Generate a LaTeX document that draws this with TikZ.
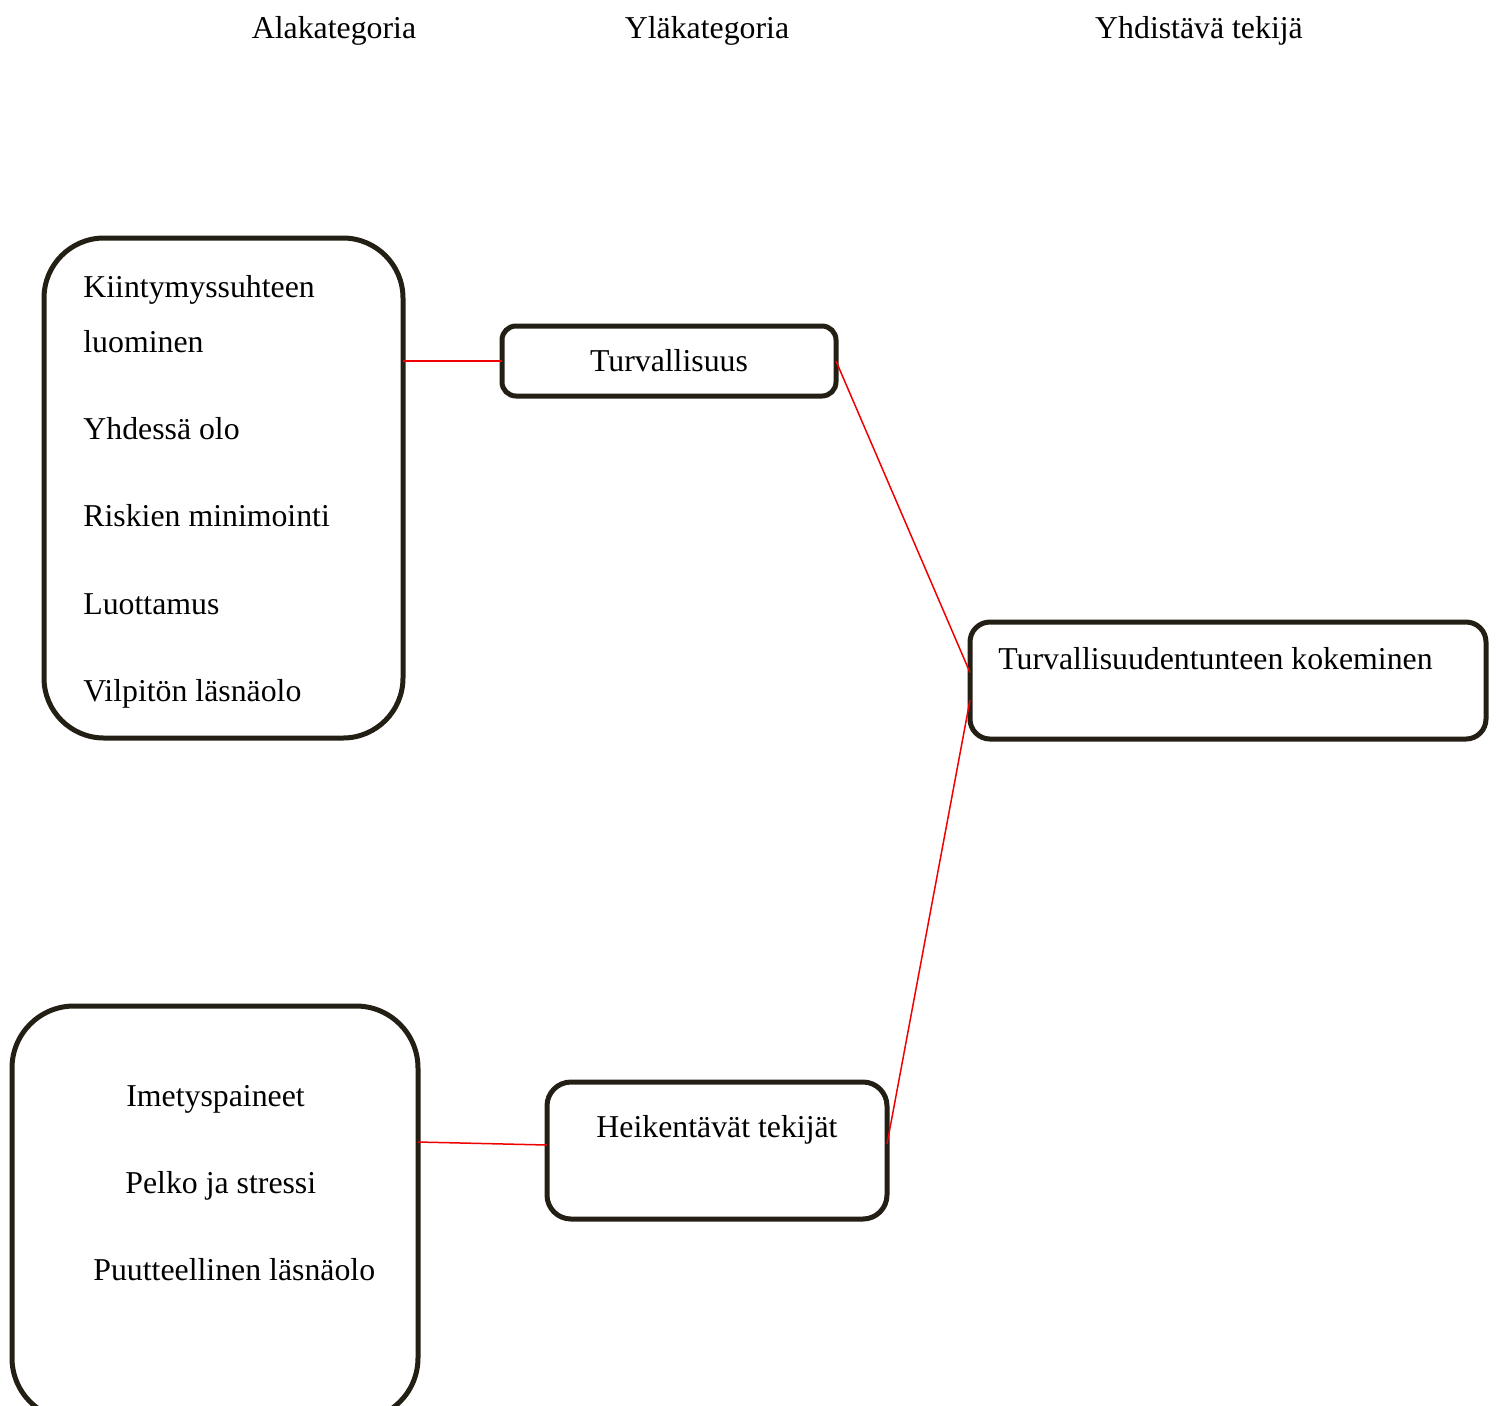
\documentclass[tikz,border=0pt]{standalone}
\usepackage{fontspec}
\setmainfont{Liberation Serif}
\definecolor{boxline}{RGB}{35,31,20}
\definecolor{linkred}{RGB}{240,0,0}
\tikzset{
  lbl/.style={font=\fontsize{15.9}{19}\selectfont, inner sep=0pt, text=black},
  catbox/.style={draw=boxline, line width=2.5pt, fill=white, inner sep=0pt, outer sep=0pt},
  link/.style={draw=linkred, line width=0.75pt}
}
\begin{document}
\begin{tikzpicture}[x=0.5pt,y=-0.5pt]
\useasboundingbox (0,0) rectangle (1501,1405);
\clip (0,0) rectangle (1501,1405);

% column headings
\node[lbl, anchor=base] (h1) at (334,38) {Alakategoria};
\node[lbl, anchor=base] (h2) at (707,38) {Yläkategoria};
\node[lbl, anchor=base] (h3) at (1199,38) {Yhdistävä tekijä};

% boxes
\node[catbox, rounded corners=30pt, minimum width=179.5pt, minimum height=250pt] (subA) at (223.5,488) {};
\node[catbox, rounded corners=7pt, minimum width=167pt, minimum height=35pt] (mainA) at (669,361) {};
\node[catbox, rounded corners=10pt, minimum width=258pt, minimum height=58.5pt] (top) at (1228,680.5) {};
\node[catbox, rounded corners=31pt, minimum width=203pt, minimum height=207pt] (subB) at (215,1213) {};
\node[catbox, rounded corners=12pt, minimum width=170pt, minimum height=68.5pt] (mainB) at (717,1150.5) {};

% texts of the first subcategory box
\node[lbl, anchor=base west] (a1) at (83,297) {Kiintymyssuhteen};
\node[lbl, anchor=base west] (a2) at (83,352) {luominen};
\node[lbl, anchor=base west] (a3) at (83,439) {Yhdessä olo};
\node[lbl, anchor=base west] (a4) at (83,526) {Riskien minimointi};
\node[lbl, anchor=base west] (a5) at (83,614) {Luottamus};
\node[lbl, anchor=base west] (a6) at (83,701) {Vilpitön läsnäolo};

% texts of the upper categories and the uniting factor
\node[lbl, anchor=base] (tA) at (669,371) {Turvallisuus};
\node[lbl, anchor=base west] (tT) at (998,669) {Turvallisuudentunteen kokeminen};
\node[lbl, anchor=base] (tB) at (717,1137) {Heikentävät tekijät};

% texts of the second subcategory box
\node[lbl, anchor=base west] (b1) at (126,1106) {Imetyspaineet};
\node[lbl, anchor=base west] (b2) at (125,1193) {Pelko ja stressi};
\node[lbl, anchor=base west] (b3) at (93,1280) {Puutteellinen läsnäolo};

% connectors
\draw[link] (subA.east |- mainA.west) -- (mainA.west);
\draw[link] (mainA.east) -- ([yshift=4pt]top.west);
\draw[link] ([yshift=-9.75pt]top.west) -- ([yshift=3.25pt]mainB.east);
\draw[link] ([yshift=35.5pt]subB.east) -- ([yshift=2.75pt]mainB.west);
\end{tikzpicture}
\end{document}
